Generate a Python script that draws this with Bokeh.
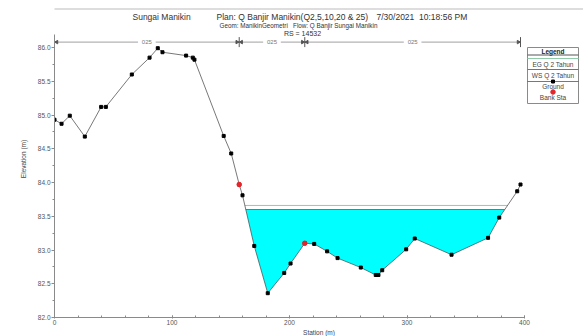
import numpy as np
from bokeh.plotting import figure
from bokeh.models import Range1d, FixedTicker, PrintfTickFormatter, BoxAnnotation
from bokeh.core.properties import value
from bokeh.embed import file_html
from bokeh.resources import INLINE

# ---------------- data ----------------
station = [0, 6, 13, 25.8, 39.7, 43.7, 65.8, 80.9, 87.9, 91.9, 112, 117.7, 119.1,
           144, 150.4, 157.2, 160, 170, 181.5, 195.5, 200.9, 213, 221, 232, 240.9,
           260.7, 273.4, 275.7, 278.9, 299.3, 306.6, 337.9, 369, 378.5, 393.8, 396.6]
elevation = [84.93, 84.87, 84.99, 84.68, 85.12, 85.12, 85.60, 85.85, 85.99, 85.93, 85.88, 85.85, 85.82,
             84.69, 84.43, 83.97, 83.81, 83.06, 82.36, 82.66, 82.80, 83.10, 83.09, 82.98, 82.88,
             82.74, 82.63, 82.63, 82.70, 83.01, 83.17, 82.93, 83.18, 83.48, 83.87, 83.97]
bank_station = [157.2, 213.0]
bank_elevation = [83.97, 83.10]
ws_elevation = 83.60
eg_elevation = 83.66
n_breaks = [0, 157.2, 213.0, 396.6]
n_values = ["025", "025", "025"]
x_ticks = [0, 100, 200, 300, 400]
y_ticks = [82.0, 82.5, 83.0, 83.5, 84.0, 84.5, 85.0, 85.5, 86.0]
NB = "\u00a0"
title_parts = ["Sungai Manikin", "Plan: Q Banjir Manikin(Q2,5,10,20 & 25)", "7/30/2021" + NB * 2 + "10:18:56 PM"]
subtitle = "Geom: ManikinGeometri" + NB * 3 + "Flow: Q Banjir Sungai Manikin"
rs_label = "RS = 14532"
legend_title = "Legend"
legend_labels = ["EG" + NB + "Q 2 Tahun", "WS" + NB + "Q 2 Tahun", "Ground", "Bank Sta"]

FONT = value("Liberation Sans")
EG_COLOR = "#8FCBA8"
WS_COLOR = "#1C8FD8"
FILL_COLOR = "#00FFFF"
GROUND_COLOR = "#555555"
BANK_COLOR = "#E3262B"
TXT = "#333333"

# ---------------- geometry of frame (canvas px) ----------------
W, H = 583, 336
FL, FB = 54, 19
FW, FH = W - FL, H - FB
PPX = 470 / 400.0
X_END = FW / PPX
PPY = 270 / 4.0
Y_TOP = 82 + FH / PPY


def dx(px):
    return (px - FL) / PPX


def dy(py):
    return Y_TOP - py / PPY


def wet_polygon(xs, ys, level):
    px, py = [], []
    for i in range(len(xs) - 1):
        x0, y0, x1, y1 = xs[i], ys[i], xs[i + 1], ys[i + 1]
        if y0 < level:
            px.append(x0); py.append(y0)
        if (y0 < level) != (y1 < level):
            t = (level - y0) / (y1 - y0)
            px.append(x0 + t * (x1 - x0)); py.append(level)
    return px, py


def crossings(xs, ys, level):
    out = []
    for i in range(len(xs) - 1):
        x0, y0, x1, y1 = xs[i], ys[i], xs[i + 1], ys[i + 1]
        if (y0 < level) != (y1 < level):
            t = (level - y0) / (y1 - y0)
            out.append(x0 + t * (x1 - x0))
    return out


p = figure(frame_width=FW, frame_height=FH, output_backend="svg", toolbar_location=None,
           x_range=Range1d(0, X_END), y_range=Range1d(82, Y_TOP),
           min_border_left=FL, min_border_right=0, min_border_top=0, min_border_bottom=FB,
           background_fill_color="white", border_fill_color="white")
p.outline_line_color = None
p.xgrid.visible = False
p.ygrid.visible = False

# axes
for ax in (p.xaxis, p.yaxis):
    ax.axis_line_color = "#8A8A8A"
    ax.major_tick_line_color = "#8A8A8A"
    ax.minor_tick_line_color = "#8A8A8A"
    ax.major_label_text_font = "Liberation Sans"
    ax.major_label_text_font_size = "6.5px"
    ax.major_label_text_color = "#555555"
    ax.axis_label_text_font = "Liberation Sans"
    ax.axis_label_text_font_size = "6.5px"
    ax.axis_label_text_font_style = "normal"
    ax.axis_label_text_color = "#444444"
p.xaxis.ticker = FixedTicker(ticks=x_ticks, minor_ticks=list(range(0, 401, 20)))
p.yaxis.ticker = FixedTicker(ticks=y_ticks, minor_ticks=list(np.arange(82.0, 86.01, 0.25)))
p.yaxis.formatter = PrintfTickFormatter(format="%.1f")
p.xaxis.bounds = (0, 400)
p.yaxis.bounds = (82, 86.2)
p.xaxis.major_tick_in = 2
p.xaxis.major_tick_out = 1
p.xaxis.minor_tick_in = 2
p.xaxis.minor_tick_out = 0
p.yaxis.major_tick_in = 0
p.yaxis.major_tick_out = 3
p.yaxis.minor_tick_in = 0
p.yaxis.minor_tick_out = 2
p.xaxis.major_label_standoff = 1
p.yaxis.major_label_standoff = 1
p.xaxis.axis_label = "Station (m)"
p.yaxis.axis_label = "Elevation (m)"
p.xaxis.axis_label_standoff = 1
p.yaxis.axis_label_standoff = 8

# outer window frame
try:
    frame_box = BoxAnnotation(left=14.5, right=W + 20, top=8.5, bottom=H + 20,
                              left_units="canvas", right_units="canvas",
                              top_units="canvas", bottom_units="canvas",
                              fill_color=None, line_color="#6E6E6E", line_width=1.5)
    p.add_layout(frame_box)
except Exception:
    pass

# water
wx, wy = wet_polygon(station, elevation, ws_elevation)
p.patch(wx, wy, fill_color=FILL_COLOR, line_color=None)
ws_x = crossings(station, elevation, ws_elevation)
p.line([ws_x[0], ws_x[-1]], [ws_elevation, ws_elevation], line_color=WS_COLOR, line_width=1)
eg_x = crossings(station, elevation, eg_elevation)
p.line([eg_x[0], eg_x[-1]], [eg_elevation, eg_elevation], line_color=EG_COLOR, line_width=1)

# ground
p.line(station, elevation, line_color=GROUND_COLOR, line_width=0.8)
p.scatter(station, elevation, marker="square", size=3, fill_color="black", line_color="black")
p.scatter(bank_station, bank_elevation, marker="circle", size=4.5, fill_color=BANK_COLOR, line_color=BANK_COLOR)

# n-value line along the top
n_y = 86.08
gap = 7.5
mids = [(n_breaks[i] + n_breaks[i + 1]) / 2 for i in range(len(n_values))]
segx0, segx1 = [], []
for i in range(len(n_values)):
    segx0 += [n_breaks[i], mids[i] + gap]
    segx1 += [mids[i] - gap, n_breaks[i + 1]]
p.segment(segx0, [n_y] * len(segx0), segx1, [n_y] * len(segx1), line_color="#A0A0A0", line_width=1)
p.text(mids, [n_y] * len(mids), text=n_values, text_font=FONT, text_font_size="6px",
       text_color="#777777", text_align="center", text_baseline="middle")
tick_h = 5 / PPY
p.segment(n_breaks, [n_y - tick_h] * 4, n_breaks, [n_y + tick_h] * 4, line_color="#555555", line_width=1)
off = 2.2 / PPX
arr_x = [n_breaks[0] + off, n_breaks[1] - off, n_breaks[1] + off, n_breaks[2] - off, n_breaks[2] + off, n_breaks[3] - off]
arr_a = [np.pi / 2, -np.pi / 2, np.pi / 2, -np.pi / 2, np.pi / 2, -np.pi / 2]
p.scatter(arr_x, [n_y] * 6, marker="triangle", angle=arr_a, size=3.5, fill_color="#555555", line_color="#555555")

# titles
p.text([dx(132)], [dy(16)], text=[title_parts[0]], text_font=FONT, text_font_size="8.5px",
       text_color=TXT, text_align="left", text_baseline="middle")
p.text([dx(216)], [dy(16)], text=[title_parts[1]], text_font=FONT, text_font_size="8.5px",
       text_color=TXT, text_align="left", text_baseline="middle")
p.text([dx(376)], [dy(16)], text=[title_parts[2]], text_font=FONT, text_font_size="8.5px",
       text_color=TXT, text_align="left", text_baseline="middle")
p.text([dx(298)], [dy(25)], text=[subtitle], text_font=FONT, text_font_size="6.3px",
       text_color=TXT, text_align="center", text_baseline="middle")
p.text([dx(302)], [dy(32.5)], text=[rs_label], text_font=FONT, text_font_size="7px",
       text_color=TXT, text_align="center", text_baseline="middle")

# legend box
lx0, lx1 = dx(527), dx(578)
lcx = (lx0 + lx1) / 2
p.quad(left=[lx0], right=[lx1], top=[dy(47)], bottom=[dy(103)], fill_color="white",
       line_color="#8A8A8A", line_width=1)
p.text([lcx], [dy(50.8)], text=[legend_title], text_font=FONT, text_font_size="6.5px",
       text_font_style="bold", text_color="#222222", text_align="center", text_baseline="middle")
p.segment([lx0], [dy(54.5)], [lx1], [dy(54.5)], line_color="#555555", line_width=1)
p.segment([lx0], [dy(58)], [lx1], [dy(58)], line_color=EG_COLOR, line_width=1)
p.segment([lx0], [dy(69)], [lx1], [dy(69)], line_color=WS_COLOR, line_width=1)
p.segment([lx0], [dy(81)], [lx1], [dy(81)], line_color=GROUND_COLOR, line_width=0.8)
p.scatter([lcx], [dy(81)], marker="square", size=3, fill_color="black", line_color="black")
p.scatter([lcx], [dy(91.5)], marker="circle", size=4.5, fill_color=BANK_COLOR, line_color=BANK_COLOR)
p.text([lcx] * 4, [dy(63.5), dy(74.5), dy(86.2), dy(97.3)], text=legend_labels, text_font=FONT,
       text_font_size="6.5px", text_color="#444444", text_align="center", text_baseline="middle")

open("out.html", "w").write(file_html(p, INLINE))
